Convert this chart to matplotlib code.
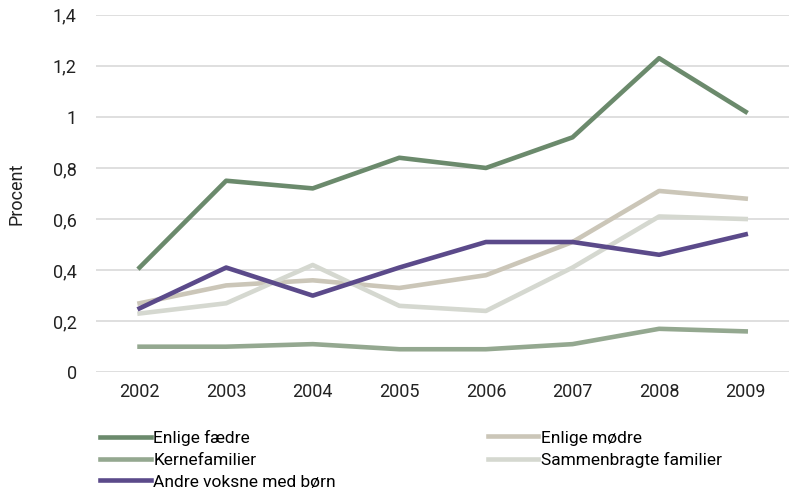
import matplotlib.pyplot as plt

years = ['2002', '2003', '2004', '2005', '2006', '2007', '2008', '2009']
enlige_faedre = [0.41, 0.75, 0.72, 0.84, 0.80, 0.92, 1.23, 1.02]
enlige_moedre = [0.27, 0.34, 0.36, 0.33, 0.38, 0.51, 0.71, 0.68]
kernefamilier = [0.10, 0.10, 0.11, 0.09, 0.09, 0.11, 0.17, 0.16]
sammenbragte = [0.23, 0.27, 0.42, 0.26, 0.24, 0.41, 0.61, 0.60]
andre_voksne = [0.25, 0.41, 0.30, 0.41, 0.51, 0.51, 0.46, 0.54]

plt.rcParams['font.family'] = ['Roboto', 'DejaVu Sans']

fig = plt.figure(figsize=(7.89, 4.93), dpi=100)
ax = fig.add_axes([0.122, 0.245, 0.878, 0.725])

x = range(len(years))
lw = 3.3
l1, = ax.plot(x, enlige_faedre, color='#6b8a6c', lw=lw, label='Enlige fædre')
l2, = ax.plot(x, enlige_moedre, color='#cbc6b8', lw=lw, label='Enlige mødre')
l3, = ax.plot(x, kernefamilier, color='#94a890', lw=lw, label='Kernefamilier')
l4, = ax.plot(x, sammenbragte, color='#d5d8d0', lw=lw, label='Sammenbragte familier')
l5, = ax.plot(x, andre_voksne, color='#5b4a8a', lw=lw, label='Andre voksne med børn')

ax.set_xlim(-0.5, len(years) - 0.5)
ax.set_ylim(0, 1.4)
ax.set_yticks([0, 0.2, 0.4, 0.6, 0.8, 1.0, 1.2, 1.4])
ax.set_yticklabels(['0', '0,2', '0,4', '0,6', '0,8', '1', '1,2', '1,4'])
ax.set_xticks(list(x))
ax.set_xticklabels(years)
ax.tick_params(length=0, labelsize=13, colors='#222222', pad=8)
ax.tick_params(axis='y', pad=14)
ax.grid(axis='y', color='#d9d9d9', lw=1.2)
ax.set_axisbelow(True)
for s in ax.spines.values():
    s.set_visible(False)
ax.set_ylabel('Procent', fontsize=13, color='#222222', labelpad=20)

leg_kw = dict(loc='upper left', frameon=False, fontsize=12.5, handlelength=2.9,
              handletextpad=0.15, labelspacing=0.37, borderaxespad=0, borderpad=0)
leg1 = fig.legend([l1, l3, l5], ['Enlige fædre', 'Kernefamilier', 'Andre voksne med børn'],
                  bbox_to_anchor=(0.127, 0.127), **leg_kw)
leg2 = fig.legend([l2, l4], ['Enlige mødre', 'Sammenbragte familier'],
                  bbox_to_anchor=(0.618, 0.127), **leg_kw)

fig.savefig('out.png', dpi=100)
